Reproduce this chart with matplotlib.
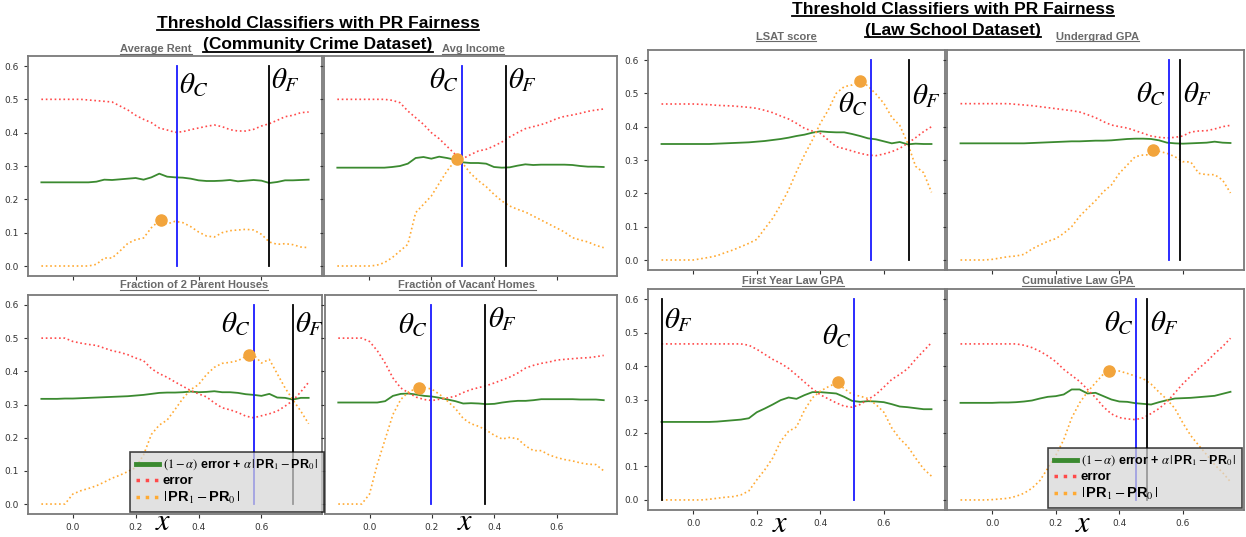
import numpy as np
import matplotlib.pyplot as plt
from matplotlib.lines import Line2D

plt.rcParams['mathtext.fontset'] = 'stix'

# threshold grid shared by every panel
x = np.linspace(-0.1, 0.75, 35)

# ---- Community Crime dataset ----
rent_err = [0.500, 0.500, 0.500, 0.500, 0.500, 0.500, 0.498, 0.496, 0.494, 0.492, 0.480, 0.468,
            0.452, 0.440, 0.430, 0.414, 0.408, 0.401, 0.403, 0.409, 0.414, 0.419, 0.423, 0.418,
            0.409, 0.405, 0.405, 0.410, 0.420, 0.427, 0.437, 0.448, 0.452, 0.460, 0.462]
rent_obj = [0.251, 0.251, 0.251, 0.251, 0.251, 0.251, 0.251, 0.253, 0.259, 0.258, 0.260, 0.262,
            0.264, 0.259, 0.266, 0.277, 0.268, 0.266, 0.265, 0.262, 0.257, 0.255, 0.255, 0.256,
            0.258, 0.254, 0.256, 0.258, 0.256, 0.249, 0.252, 0.257, 0.257, 0.258, 0.259]
rent_gap = [0.000, 0.000, 0.000, 0.000, 0.000, 0.000, 0.000, 0.005, 0.024, 0.024, 0.045, 0.068,
            0.079, 0.084, 0.115, 0.136, 0.126, 0.134, 0.130, 0.118, 0.102, 0.090, 0.087, 0.100,
            0.106, 0.108, 0.110, 0.108, 0.095, 0.072, 0.065, 0.067, 0.064, 0.057, 0.055]
rent_theta = (0.330, 0.623)
rent_peak = (0.280, 0.138)

income_err = [0.500, 0.500, 0.500, 0.500, 0.500, 0.500, 0.500, 0.497, 0.490, 0.465, 0.445, 0.425,
              0.400, 0.382, 0.359, 0.336, 0.322, 0.334, 0.345, 0.350, 0.360, 0.372, 0.387, 0.400,
              0.412, 0.418, 0.424, 0.432, 0.442, 0.449, 0.453, 0.458, 0.464, 0.468, 0.471]
income_obj = [0.295, 0.295, 0.295, 0.295, 0.295, 0.295, 0.295, 0.297, 0.300, 0.307, 0.324, 0.327,
              0.322, 0.328, 0.324, 0.319, 0.311, 0.309, 0.309, 0.307, 0.297, 0.295, 0.296, 0.301,
              0.305, 0.303, 0.304, 0.304, 0.304, 0.304, 0.303, 0.300, 0.298, 0.298, 0.297]
income_gap = [0.000, 0.000, 0.000, 0.000, 0.000, 0.002, 0.010, 0.025, 0.045, 0.065, 0.160, 0.185,
              0.210, 0.248, 0.285, 0.315, 0.308, 0.278, 0.256, 0.238, 0.215, 0.195, 0.180, 0.170,
              0.162, 0.150, 0.138, 0.126, 0.114, 0.102, 0.085, 0.078, 0.072, 0.062, 0.055]
income_theta = (0.297, 0.437)
income_peak = (0.281, 0.320)

parent_err = [0.500, 0.500, 0.500, 0.500, 0.490, 0.485, 0.481, 0.478, 0.470, 0.462, 0.457, 0.450,
              0.440, 0.432, 0.408, 0.393, 0.382, 0.368, 0.355, 0.342, 0.332, 0.323, 0.305, 0.290,
              0.284, 0.276, 0.265, 0.260, 0.266, 0.272, 0.280, 0.295, 0.312, 0.338, 0.367]
parent_obj = [0.317, 0.317, 0.317, 0.318, 0.318, 0.319, 0.320, 0.321, 0.322, 0.323, 0.324, 0.325,
              0.327, 0.329, 0.332, 0.335, 0.336, 0.336, 0.337, 0.339, 0.337, 0.338, 0.340, 0.337,
              0.337, 0.335, 0.331, 0.329, 0.326, 0.332, 0.321, 0.320, 0.315, 0.320, 0.320]
parent_gap = [0.000, 0.000, 0.000, 0.000, 0.030, 0.040, 0.047, 0.055, 0.066, 0.078, 0.087, 0.098,
              0.110, 0.148, 0.210, 0.238, 0.253, 0.285, 0.318, 0.345, 0.360, 0.390, 0.412, 0.424,
              0.427, 0.432, 0.445, 0.450, 0.425, 0.436, 0.393, 0.350, 0.314, 0.280, 0.242]
parent_theta = (0.577, 0.699)
parent_peak = (0.559, 0.450)

vacant_err = [0.500, 0.500, 0.500, 0.500, 0.490, 0.462, 0.425, 0.380, 0.350, 0.335, 0.322, 0.315,
              0.312, 0.316, 0.320, 0.325, 0.336, 0.345, 0.351, 0.357, 0.365, 0.374, 0.383, 0.395,
              0.410, 0.418, 0.424, 0.428, 0.434, 0.436, 0.438, 0.440, 0.441, 0.444, 0.448]
vacant_obj = [0.306, 0.306, 0.306, 0.306, 0.306, 0.306, 0.310, 0.326, 0.332, 0.333, 0.330, 0.326,
              0.324, 0.320, 0.315, 0.310, 0.303, 0.304, 0.303, 0.301, 0.302, 0.306, 0.309, 0.311,
              0.311, 0.313, 0.316, 0.316, 0.316, 0.316, 0.316, 0.315, 0.315, 0.315, 0.313]
vacant_gap = [0.000, 0.000, 0.000, 0.000, 0.030, 0.120, 0.195, 0.270, 0.315, 0.338, 0.348, 0.352,
              0.346, 0.330, 0.310, 0.288, 0.258, 0.242, 0.234, 0.222, 0.207, 0.196, 0.201, 0.196,
              0.175, 0.161, 0.161, 0.148, 0.140, 0.134, 0.130, 0.124, 0.120, 0.119, 0.100]
vacant_theta = (0.196, 0.369)
vacant_peak = (0.160, 0.351)

# ---- Law School dataset ----
lsat_err = [0.468, 0.468, 0.468, 0.468, 0.468, 0.467, 0.466, 0.464, 0.463, 0.462, 0.460, 0.458,
            0.455, 0.449, 0.442, 0.432, 0.423, 0.410, 0.395, 0.387, 0.380, 0.360, 0.340, 0.334,
            0.327, 0.320, 0.315, 0.313, 0.318, 0.325, 0.335, 0.350, 0.367, 0.385, 0.400]
lsat_obj = [0.348, 0.348, 0.348, 0.348, 0.348, 0.348, 0.348, 0.349, 0.350, 0.351, 0.352, 0.353,
            0.355, 0.357, 0.360, 0.363, 0.367, 0.372, 0.376, 0.382, 0.386, 0.384, 0.383, 0.383,
            0.378, 0.372, 0.365, 0.362, 0.356, 0.350, 0.354, 0.347, 0.349, 0.348, 0.348]
lsat_gap = [0.000, 0.000, 0.000, 0.000, 0.000, 0.004, 0.008, 0.013, 0.022, 0.030, 0.040, 0.050,
            0.062, 0.094, 0.125, 0.165, 0.210, 0.265, 0.315, 0.360, 0.410, 0.450, 0.500, 0.520,
            0.525, 0.538, 0.522, 0.498, 0.470, 0.428, 0.404, 0.350, 0.281, 0.262, 0.203]
lsat_theta = (0.558, 0.679)
lsat_peak = (0.525, 0.538)

ugpa_err = [0.469, 0.469, 0.469, 0.469, 0.469, 0.469, 0.469, 0.467, 0.465, 0.463, 0.460, 0.457,
            0.454, 0.451, 0.448, 0.444, 0.436, 0.427, 0.415, 0.405, 0.400, 0.396, 0.388, 0.380,
            0.372, 0.368, 0.366, 0.368, 0.372, 0.384, 0.387, 0.388, 0.393, 0.400, 0.404]
ugpa_obj = [0.350, 0.350, 0.350, 0.350, 0.350, 0.350, 0.350, 0.350, 0.350, 0.351, 0.352, 0.353,
            0.354, 0.355, 0.356, 0.356, 0.357, 0.358, 0.358, 0.359, 0.361, 0.363, 0.364, 0.364,
            0.363, 0.359, 0.352, 0.350, 0.349, 0.350, 0.351, 0.352, 0.355, 0.352, 0.351]
ugpa_gap = [0.000, 0.000, 0.000, 0.000, 0.002, 0.006, 0.010, 0.012, 0.017, 0.033, 0.045, 0.056,
            0.064, 0.080, 0.100, 0.131, 0.155, 0.178, 0.205, 0.225, 0.260, 0.285, 0.310, 0.315,
            0.316, 0.326, 0.320, 0.310, 0.295, 0.294, 0.260, 0.256, 0.256, 0.240, 0.201]
ugpa_theta = (0.557, 0.591)
ugpa_peak = (0.505, 0.330)

fygpa_err = [0.466, 0.466, 0.466, 0.466, 0.466, 0.466, 0.466, 0.466, 0.466, 0.466, 0.466, 0.462,
             0.450, 0.435, 0.420, 0.408, 0.393, 0.373, 0.352, 0.332, 0.314, 0.302, 0.290, 0.280,
             0.277, 0.285, 0.300, 0.315, 0.337, 0.360, 0.375, 0.392, 0.420, 0.445, 0.470]
fygpa_obj = [0.233, 0.233, 0.233, 0.233, 0.233, 0.233, 0.233, 0.234, 0.236, 0.238, 0.240, 0.244,
             0.262, 0.273, 0.285, 0.298, 0.306, 0.302, 0.313, 0.322, 0.322, 0.320, 0.318, 0.308,
             0.296, 0.293, 0.295, 0.294, 0.292, 0.286, 0.279, 0.277, 0.274, 0.271, 0.271]
fygpa_gap = [0.000, 0.000, 0.000, 0.000, 0.000, 0.000, 0.002, 0.005, 0.008, 0.010, 0.015, 0.027,
             0.060, 0.090, 0.125, 0.175, 0.205, 0.218, 0.268, 0.305, 0.325, 0.338, 0.349, 0.333,
             0.315, 0.310, 0.303, 0.285, 0.262, 0.215, 0.183, 0.160, 0.125, 0.093, 0.071]
fygpa_theta = (0.507, -0.100)
fygpa_peak = (0.456, 0.351)

cgpa_err = [0.466, 0.466, 0.466, 0.466, 0.466, 0.466, 0.466, 0.466, 0.462, 0.455, 0.444, 0.430,
            0.413, 0.390, 0.372, 0.354, 0.330, 0.306, 0.278, 0.257, 0.246, 0.242, 0.240, 0.245,
            0.258, 0.273, 0.293, 0.320, 0.347, 0.370, 0.393, 0.413, 0.437, 0.458, 0.483]
cgpa_obj = [0.290, 0.290, 0.290, 0.290, 0.290, 0.291, 0.291, 0.292, 0.294, 0.297, 0.303, 0.308,
            0.310, 0.315, 0.330, 0.330, 0.318, 0.320, 0.310, 0.300, 0.294, 0.293, 0.289, 0.287,
            0.285, 0.292, 0.298, 0.303, 0.304, 0.305, 0.307, 0.309, 0.311, 0.317, 0.323]
cgpa_gap = [0.000, 0.000, 0.000, 0.000, 0.001, 0.003, 0.005, 0.011, 0.020, 0.035, 0.058, 0.095,
            0.133, 0.180, 0.245, 0.290, 0.323, 0.350, 0.376, 0.384, 0.385, 0.378, 0.370, 0.362,
            0.346, 0.322, 0.300, 0.273, 0.230, 0.192, 0.163, 0.135, 0.105, 0.082, 0.054]
cgpa_theta = (0.454, 0.488)
cgpa_peak = (0.368, 0.384)

W, H = 1246, 537
fig = plt.figure(figsize=(W / 100, H / 100), dpi=100)

RED = '#ff4a4a'
ORANGE = '#ffaa33'
GREEN = '#3b8a30'
DOT = '#f2a43c'
SANS = 'Liberation Sans'


def px_axes(x0, y0, x1, y1):
    return fig.add_axes([x0 / W, 1 - y1 / H, (x1 - x0) / W, (y1 - y0) / H])


# title, data, axes box in pixels, tick labels (x, y),
# theta label placement: (side, top) for theta_C and theta_F, title position
panels = [
    ('Average Rent', rent_err, rent_obj, rent_gap, rent_theta, rent_peak,
     (28, 56, 322, 276), (False, True), (('r', 0.585), ('r', 0.60)), (156, 49)),
    ('Avg Income', income_err, income_obj, income_gap, income_theta, income_peak,
     (324, 56, 617, 276), (False, False), (('l', 0.60), ('r', 0.60)), (473, 49)),
    ('Fraction of 2 Parent Houses', parent_err, parent_obj, parent_gap, parent_theta, parent_peak,
     (28, 295, 322, 514), (True, True), (('l', 0.585), ('r', 0.585)), (194, 285)),
    ('Fraction of Vacant Homes', vacant_err, vacant_obj, vacant_gap, vacant_theta, vacant_peak,
     (325, 295, 617, 514), (True, False), (('l', 0.58), ('r', 0.60)), (467, 285)),
    ('LSAT score', lsat_err, lsat_obj, lsat_gap, lsat_theta, lsat_peak,
     (648, 50, 945, 270), (False, True), (('l', 0.51), ('r', 0.535)), (786, 37)),
    ('Undergrad GPA', ugpa_err, ugpa_obj, ugpa_gap, ugpa_theta, ugpa_peak,
     (947, 50, 1244, 270), (False, False), (('l', 0.54), ('r', 0.54)), (1097, 37)),
    ('First Year Law GPA', fygpa_err, fygpa_obj, fygpa_gap, fygpa_theta, fygpa_peak,
     (648, 289, 945, 510), (True, True), (('l', 0.53), ('r', 0.58)), (793, 281)),
    ('Cumulative Law GPA', cgpa_err, cgpa_obj, cgpa_gap, cgpa_theta, cgpa_peak,
     (947, 289, 1244, 510), (True, False), (('l', 0.57), ('r', 0.57)), (1078, 281)),
]

underlined = []

for title, err, obj, gap, (tc, tf), peak, box, (xl, yl), (lab_c, lab_f), tpos in panels:
    ax = px_axes(*box)
    ax.plot(x, obj, color=GREEN, lw=1.3)
    ax.plot(x, err, color=RED, lw=1.2, ls=':')
    ax.plot(x, gap, color=ORANGE, lw=1.2, ls=':')
    ax.plot([tc, tc], [0, 0.6], color='#1a1aff', lw=1.3)
    ax.plot([tf, tf], [0, 0.6], color='black', lw=1.3)
    ax.plot(peak[0], peak[1], 'o', color=DOT, ms=8, zorder=5)

    for t, (side, top), name in ((tc, lab_c, r'$\theta_C$'), (tf, lab_f, r'$\theta_F$')):
        dx = 2 if side == 'r' else -2
        ax.annotate(name, xy=(t, top), xytext=(dx, 0), textcoords='offset points',
                    ha='left' if side == 'r' else 'right', va='top', fontsize=21)

    ax.set_xlim(-0.1425, 0.7925)
    ax.set_ylim(-0.03, 0.63)
    ax.set_xticks([0.0, 0.2, 0.4, 0.6])
    ax.set_yticks([0.0, 0.1, 0.2, 0.3, 0.4, 0.5, 0.6])
    ax.tick_params(labelsize=6.5, colors='#333333', length=3, width=0.8,
                   labelbottom=xl, labelleft=yl)
    for sp in ax.spines.values():
        sp.set_color('#7a7a7a')
        sp.set_linewidth(1.3)

    tt = fig.text(tpos[0] / W, 1 - tpos[1] / H, title, ha='center', va='center',
                  family=SANS, weight='bold', size=8, color='#6a6a6a')
    underlined.append((tt, 0.8))

# group headings
for cx, cy, line in ((318, 23, 'Threshold Classifiers with PR Fairness'),
                     (318, 45, '(Community Crime Dataset)'),
                     (953, 9, 'Threshold Classifiers with PR Fairness'),
                     (953, 30, '(Law School Dataset)')):
    tt = fig.text(cx / W, 1 - cy / H, line, ha='center', va='center',
                  family=SANS, weight='bold', size=12.5, color='black')
    underlined.append((tt, 1.3))

# x axis symbol under each bottom panel
for cx, cy in ((163, 522), (465, 522), (780, 524), (1083, 524)):
    fig.text(cx / W, 1 - cy / H, r'$x$', ha='center', va='center', fontsize=22)

handles = [Line2D([], [], color=GREEN, lw=3.5),
           Line2D([], [], color=RED, lw=2.5, ls=':'),
           Line2D([], [], color=ORANGE, lw=2.5, ls=':')]
labels = [r'$(1-\alpha)$ error + $\alpha\,|\,$PR$_1-$PR$_0\,|$',
          'error',
          r'$|\,$PR$_1-$PR$_0\,|$']

for rx, by in ((324, 512), (1242, 508)):
    leg = fig.legend(handles, labels, loc='lower right',
                     bbox_to_anchor=(rx / W, 1 - by / H), borderaxespad=0,
                     prop=dict(family=SANS, weight='bold', size=9.5),
                     fancybox=False, edgecolor='black', facecolor='#d6d6d6',
                     framealpha=0.72, handlelength=1.7, handletextpad=0.3,
                     labelspacing=0.2, borderpad=0.45)
    leg.get_frame().set_linewidth(1.2)
    leg.get_texts()[0].set_fontsize(9)
    leg.get_texts()[2].set_fontsize(10.5)

# underline the headings
fig.canvas.draw()
fw, fh = fig.bbox.width, fig.bbox.height
for tt, lw in underlined:
    bb = tt.get_window_extent()
    yy = (bb.y0 + 0.5) / fh
    fig.add_artist(Line2D([bb.x0 / fw, bb.x1 / fw], [yy, yy],
                          color=tt.get_color(), lw=lw))

fig.savefig('out.png', dpi=100)
